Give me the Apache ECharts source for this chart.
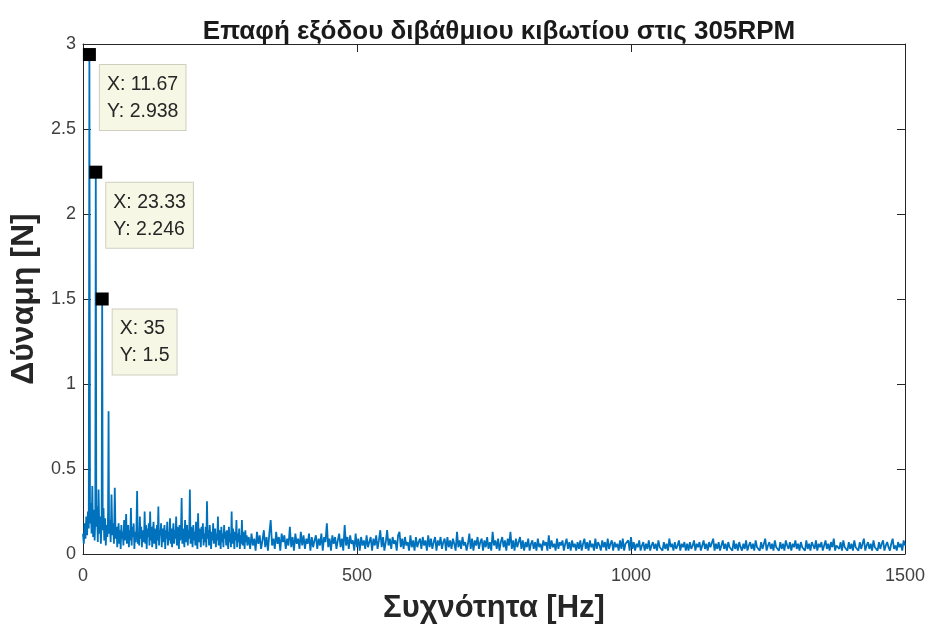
<!DOCTYPE html>
<html>
<head>
<meta charset="utf-8">
<script src="https://cdn.jsdelivr.net/npm/echarts@6/dist/echarts.min.js"></script>
<style>
html,body{margin:0;padding:0;background:#fff;}
#chart{width:928px;height:631px;}
</style>
</head>
<body>
<div id="chart"></div>
<script>
// ---- Data ----
const titleText = 'Επαφή εξόδου διβάθμιου κιβωτίου στις 305RPM';
const xName = 'Συχνότητα [Hz]';
const yName = 'Δύναμη [N]';
const xTicks = [0, 500, 1000, 1500];
const yTicks = [0, 0.5, 1, 1.5, 2, 2.5, 3];

// Low-frequency part (explicit frequency / amplitude pairs)
const freqLow = [0, 1.5, 3, 4.5, 6, 7.5, 9, 10.5, 11.67, 12.8, 14.2, 15.6, 17, 18.4, 19.8, 21.2, 22.4, 23.33, 24.3, 25.6, 27, 28.4, 29.8, 31.2, 32.6, 34, 35, 36, 37.4, 38.8, 40.2, 41.6, 43, 44.5, 45.7, 46.67, 47.6, 49, 50.5, 52, 53.5, 55, 56.5, 58, 59.5];
const ampLow = [0.12, 0.06, 0.18, 0.09, 0.22, 0.11, 0.25, 0.15, 2.938, 0.18, 0.30, 0.12, 0.40, 0.10, 0.26, 0.08, 0.20, 2.246, 0.16, 0.28, 0.07, 0.38, 0.12, 0.22, 0.06, 0.19, 1.5, 0.14, 0.27, 0.08, 0.21, 0.05, 0.17, 0.10, 0.23, 0.84, 0.12, 0.20, 0.07, 0.35, 0.11, 0.18, 0.06, 0.39, 0.09];

// 61.25 .. 300 Hz, every 1.25 Hz (one row = 20 Hz)
const midStart = 61.25, midStep = 1.25;
const ampMid = [
 0.16,0.04,0.12,0.18,0.06,0.14,0.03,0.17,0.09,0.13,0.05,0.20,0.08,0.15,0.235,0.06,
 0.11,0.17,0.04,0.14,0.08,0.27,0.05,0.16,0.10,0.18,0.03,0.13,0.07,0.15,0.37,0.06,
 0.12,0.05,0.22,0.09,0.16,0.04,0.14,0.11,0.07,0.25,0.06,0.17,0.03,0.15,0.10,0.18,
 0.05,0.25,0.08,0.16,0.04,0.13,0.19,0.06,0.15,0.10,0.03,0.17,0.08,0.28,0.05,0.14,
 0.11,0.18,0.04,0.15,0.07,0.12,0.17,0.03,0.14,0.09,0.19,0.05,0.13,0.08,0.21,0.06,
 0.15,0.04,0.12,0.18,0.06,0.14,0.09,0.22,0.05,0.16,0.11,0.03,0.17,0.08,0.13,0.33,
 0.06,0.15,0.10,0.04,0.20,0.12,0.07,0.17,0.05,0.14,0.09,0.38,0.06,0.16,0.11,0.04,
 0.17,0.08,0.13,0.05,0.19,0.10,0.03,0.24,0.07,0.15,0.11,0.04,0.16,0.09,0.18,0.05,
 0.12,0.07,0.16,0.04,0.31,0.09,0.14,0.05,0.17,0.10,0.03,0.13,0.08,0.18,0.06,0.11,
 0.15,0.04,0.12,0.08,0.22,0.05,0.14,0.10,0.03,0.16,0.07,0.12,0.04,0.17,0.09,0.13,
 0.05,0.14,0.09,0.03,0.16,0.07,0.12,0.04,0.25,0.06,0.15,0.10,0.03,0.13,0.08,0.20,
 0.04,0.12,0.07,0.15,0.03,0.11,0.06,0.20,0.05,0.13,0.09,0.03,0.14,0.07,0.11,0.05
];

// 302.5 .. 1500 Hz, every 2.5 Hz (one row = 100 Hz)
const highStart = 302.5, highStep = 2.5;
const ampHigh = [
 0.10,0.03,0.12,0.05,0.09,0.02,0.13,0.06,0.11,0.03,0.08,0.14,0.04,0.10,0.02,0.12,0.20,0.05,0.09,0.03,0.13,0.06,0.10,0.02,0.12,0.07,0.11,0.03,0.09,0.05,0.16,0.04,0.10,0.02,0.12,0.06,0.09,0.03,0.13,0.05,
 0.11,0.03,0.09,0.06,0.12,0.02,0.10,0.04,0.08,0.11,0.03,0.09,0.05,0.12,0.02,0.10,0.07,0.18,0.04,0.09,0.02,0.11,0.06,0.10,0.03,0.08,0.12,0.04,0.09,0.02,0.17,0.05,0.10,0.03,0.11,0.06,0.08,0.02,0.12,0.04,
 0.09,0.02,0.10,0.05,0.08,0.03,0.11,0.04,0.07,0.10,0.02,0.09,0.05,0.11,0.03,0.08,0.14,0.04,0.10,0.02,0.07,0.14,0.05,0.09,0.03,0.10,0.06,0.08,0.02,0.11,0.13,0.04,0.09,0.03,0.10,0.05,0.07,0.02,0.11,0.04,
 0.08,0.02,0.10,0.04,0.07,0.09,0.03,0.10,0.05,0.08,0.02,0.11,0.04,0.09,0.03,0.07,0.10,0.02,0.08,0.05,0.10,0.03,0.07,0.09,0.02,0.10,0.04,0.08,0.03,0.09,0.06,0.02,0.13,0.04,0.08,0.03,0.10,0.05,0.07,0.02,
 0.06,0.12,0.03,0.09,0.02,0.08,0.05,0.10,0.03,0.07,0.09,0.02,0.08,0.04,0.10,0.03,0.07,0.02,0.13,0.05,0.08,0.03,0.09,0.02,0.07,0.10,0.04,0.08,0.02,0.09,0.05,0.13,0.03,0.08,0.02,0.09,0.04,0.07,0.10,0.03,
 0.08,0.02,0.07,0.04,0.09,0.02,0.06,0.08,0.03,0.07,0.02,0.09,0.04,0.06,0.02,0.08,0.05,0.07,0.02,0.11,0.03,0.08,0.04,0.06,0.02,0.09,0.03,0.07,0.05,0.08,0.02,0.06,0.09,0.03,0.07,0.02,0.08,0.04,0.06,0.02,
 0.07,0.03,0.08,0.02,0.06,0.09,0.03,0.07,0.02,0.08,0.04,0.06,0.02,0.09,0.03,0.07,0.05,0.02,0.08,0.04,0.07,0.02,0.09,0.03,0.06,0.08,0.02,0.07,0.04,0.06,0.02,0.08,0.03,0.09,0.02,0.06,0.05,0.08,0.02,0.10,
 0.03,0.07,0.02,0.06,0.04,0.08,0.02,0.05,0.07,0.02,0.06,0.03,0.08,0.02,0.05,0.07,0.03,0.06,0.02,0.08,0.04,0.05,0.02,0.07,0.03,0.06,0.02,0.09,0.04,0.06,0.02,0.07,0.03,0.05,0.08,0.02,0.06,0.04,0.07,0.02,
 0.06,0.02,0.07,0.03,0.05,0.08,0.02,0.06,0.04,0.07,0.02,0.05,0.08,0.03,0.06,0.02,0.07,0.04,0.05,0.09,0.02,0.06,0.03,0.07,0.02,0.05,0.08,0.03,0.06,0.02,0.07,0.04,0.05,0.02,0.08,0.03,0.06,0.02,0.07,0.04,
 0.02,0.06,0.03,0.08,0.02,0.05,0.07,0.03,0.06,0.02,0.08,0.04,0.05,0.02,0.07,0.03,0.06,0.09,0.02,0.05,0.07,0.03,0.06,0.02,0.08,0.04,0.05,0.02,0.07,0.03,0.06,0.02,0.08,0.05,0.03,0.07,0.02,0.06,0.04,0.08,
 0.03,0.06,0.02,0.07,0.04,0.05,0.02,0.08,0.03,0.06,0.02,0.07,0.05,0.03,0.08,0.02,0.06,0.04,0.07,0.02,0.05,0.08,0.03,0.06,0.02,0.07,0.04,0.09,0.02,0.05,0.06,0.03,0.07,0.02,0.08,0.04,0.05,0.02,0.07,0.03,
 0.06,0.02,0.08,0.04,0.05,0.02,0.07,0.03,0.06,0.09,0.02,0.05,0.07,0.03,0.06,0.02,0.08,0.04,0.05,0.02,0.07,0.03,0.06,0.08,0.02,0.05,0.07,0.04,0.02,0.06,0.09,0.03,0.05,0.02,0.07,0.04,0.06,0.02,0.08,0.05
];

// Data tips
const tipX = [11.67, 23.33, 35];
const tipY = [2.938, 2.246, 1.5];

// ---- Build series data ----
const spectrum = [];
freqLow.forEach((f, i) => spectrum.push([f, ampLow[i]]));
ampMid.forEach((v, i) => spectrum.push([midStart + i * midStep, v]));
ampHigh.forEach((v, i) => spectrum.push([highStart + i * highStep, v]));
const tips = tipX.map((x, i) => [x, tipY[i]]);

const FONT = 'Liberation Sans';
const axisColor = '#262626';
const chart = echarts.init(document.getElementById('chart'), null, {renderer: 'canvas'});

function frameAxis(extra) {
  return Object.assign({
    axisLine: {show: true, onZero: false, lineStyle: {color: axisColor, width: 1}},
    axisTick: {show: true, inside: true, length: 8, lineStyle: {color: axisColor, width: 1}},
    splitLine: {show: false}
  }, extra);
}
const plain = v => String(v);

chart.setOption({
  animation: false,
  backgroundColor: '#ffffff',
  title: {
    text: titleText, left: 494, top: 14, textAlign: 'center',
    textStyle: {fontFamily: FONT, fontSize: 26, fontWeight: 'bold', color: '#1a1a1a'}
  },
  grid: {left: 83, right: 23, top: 44, bottom: 77, containLabel: false},
  xAxis: [
    frameAxis({
      type: 'value', position: 'bottom', min: xTicks[0], max: xTicks[xTicks.length - 1], interval: xTicks[1] - xTicks[0],
      name: xName, nameLocation: 'middle', nameGap: 39,
      nameTextStyle: {fontFamily: FONT, fontSize: 31, fontWeight: 'bold', color: '#262626'},
      axisLabel: {fontFamily: FONT, fontSize: 18, color: '#404040', margin: 13, formatter: plain}
    }),
    frameAxis({
      type: 'value', position: 'top', min: xTicks[0], max: xTicks[xTicks.length - 1], interval: xTicks[1] - xTicks[0],
      axisLabel: {show: false}
    })
  ],
  yAxis: [
    frameAxis({
      type: 'value', position: 'left', min: yTicks[0], max: yTicks[yTicks.length - 1], interval: yTicks[1] - yTicks[0],
      name: yName, nameLocation: 'middle', nameGap: 33,
      nameTextStyle: {fontFamily: FONT, fontSize: 32, fontWeight: 'bold', color: '#262626'},
      axisLabel: {fontFamily: FONT, fontSize: 18, color: '#404040', margin: 7, formatter: plain}
    }),
    frameAxis({
      type: 'value', position: 'right', min: yTicks[0], max: yTicks[yTicks.length - 1], interval: yTicks[1] - yTicks[0],
      axisLabel: {show: false}
    })
  ],
  series: [
    {
      type: 'line', data: spectrum, showSymbol: false, symbol: 'none', sampling: false,
      lineStyle: {color: '#0072BD', width: 1.8}, z: 2, silent: true
    },
    {
      type: 'scatter', data: tips, symbol: 'rect', symbolSize: 13, z: 5,
      itemStyle: {color: '#000000', opacity: 1},
      label: {
        show: true, position: [17, 17], align: 'left', verticalAlign: 'top',
        formatter: p => 'X: ' + p.value[0] + '\nY: ' + p.value[1],
        fontFamily: FONT, fontSize: 19.5, lineHeight: 27, color: '#262626',
        backgroundColor: '#f7f7e6', borderColor: '#cfcfc0', borderWidth: 1,
        padding: [6, 7, 5, 7]
      }
    }
  ]
});
</script>
</body>
</html>
